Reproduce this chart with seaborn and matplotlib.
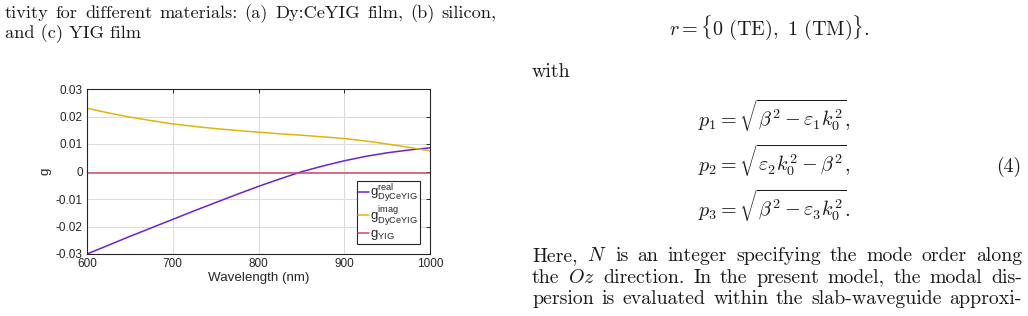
import numpy as np
import pandas as pd
import seaborn as sns
import matplotlib
matplotlib.use("Agg")
import matplotlib.pyplot as plt
from matplotlib.lines import Line2D

# ---------------- data ----------------
wavelength = [600, 625, 650, 675, 700, 725, 750, 775, 800, 825, 850, 875, 900, 925, 950, 975, 1000]
g_real = [-0.0300, -0.0268, -0.0236, -0.0205, -0.0174, -0.0143, -0.0113, -0.0083, -0.0054,
          -0.0027, -0.0001, 0.0020, 0.0039, 0.0055, 0.0068, 0.0078, 0.0086]
g_imag = [0.0230, 0.0213, 0.0198, 0.0185, 0.0173, 0.0164, 0.0156, 0.0149, 0.0143,
          0.0137, 0.0132, 0.0126, 0.0120, 0.0111, 0.0100, 0.0088, 0.0075]
g_yig = [-0.0007] * len(wavelength)
series_names = ["real", "imag", "yig"]
legend_labels = [r"$\mathregular{g^{real}_{DyCeYIG}}$",
                 r"$\mathregular{g^{imag}_{DyCeYIG}}$",
                 r"$\mathregular{g_{YIG}}$"]
xticks = [600, 700, 800, 900, 1000]
yticks = [-0.03, -0.02, -0.01, 0, 0.01, 0.02, 0.03]
ytick_labels = ["-0.03", "-0.02", "-0.01", "0", "0.01", "0.02", "0.03"]

n = len(wavelength)
df = pd.DataFrame({
    "wl": wavelength * 3,
    "g": g_real + g_imag + g_yig,
    "series": ["real"] * n + ["imag"] * n + ["yig"] * n,
})
palette = {"real": "#6A22D8", "imag": "#E0B50A", "yig": "#CF4867"}

# ---------------- figure ----------------
sns.set_style("white")
plt.rcParams["mathtext.fontset"] = "cm"
plt.rcParams["axes.unicode_minus"] = False
W, H = 1028, 316
fig = plt.figure(figsize=(W / 100, H / 100), dpi=100)

SANS = "Liberation Sans"
ax = fig.add_axes([87 / W, 1 - 254 / H, (430 - 87) / W, (254 - 89) / H])
sns.lineplot(data=df, x="wl", y="g", hue="series", palette=palette, ax=ax,
             linewidth=1.1, legend=False, sort=True)
ax.set_xlim(600, 1000)
ax.set_ylim(-0.03, 0.03)
ax.set_xticks(xticks)
ax.set_xticklabels([str(t) for t in xticks], fontfamily=SANS, fontsize=8.5)
ax.set_yticks(yticks)
ax.set_yticklabels(ytick_labels, fontfamily=SANS, fontsize=8.5)
ax.grid(True, color="#dcdcdc", linewidth=0.8)
ax.set_axisbelow(True)
for s in ax.spines.values():
    s.set_visible(True)
    s.set_color("#262626")
    s.set_linewidth(0.8)
ax.tick_params(direction="in", length=3, width=0.7, top=True, right=True,
               colors="#262626", pad=3)
ax.set_xlabel("Wavelength (nm)", fontfamily=SANS, fontsize=9.6, color="#262626", labelpad=1)
ax.set_ylabel("g", fontfamily=SANS, fontsize=9.6, color="#262626", labelpad=3)

handles = [Line2D([], [], color=palette[s], linewidth=1.1) for s in series_names]
leg = ax.legend(handles, legend_labels, loc="upper left",
                bbox_to_anchor=((357 - 87) / 343, (254 - 181) / 165),
                prop={"family": SANS, "size": 9.5}, handlelength=0.8, handletextpad=0.1,
                borderpad=0.1, labelspacing=0.0, borderaxespad=0, fancybox=False,
                framealpha=1, edgecolor="#262626")
leg.get_frame().set_linewidth(0.8)

# ---------------- surrounding page text ----------------
SERIF = "cmr10"
FS_CAP = 13.2
FS = 14.3
MFS = 14.5
renderer = fig.canvas.get_renderer()


def put(s, x, y, ha="left", size=FS):
    return fig.text(x / W, 1 - y / H, s, ha=ha, va="baseline",
                    fontfamily=SERIF, fontsize=size, color="#1a1a1a")


def justify(words, x0, x1, y, size=FS):
    ts = [put(w, 0, y, size=size) for w in words]
    ws = [t.get_window_extent(renderer).width for t in ts]
    gap = (x1 - x0 - sum(ws)) / (len(ws) - 1)
    x = x0
    for t, w in zip(ts, ws):
        t.set_position((x / W, 1 - y / H))
        x += w + gap


justify("tivity for different materials: (a) Dy:CeYIG film, (b) silicon,".split(), 5, 497, 18, size=FS_CAP)
put("and (c) YIG film", 5, 38, size=FS_CAP)

put(r"$r = \{0\ (\mathrm{TE}),\ 1\ (\mathrm{TM})\}.$", 769, 35, ha="center", size=MFS)
put("with", 532, 77)
put(r"$p_1 = \sqrt{\beta^2 - \varepsilon_1 k_0^2},$", 698, 127, size=MFS)
put(r"$p_2 = \sqrt{\varepsilon_2 k_0^2 - \beta^2},$", 698, 172, size=MFS)
put(r"$p_3 = \sqrt{\beta^2 - \varepsilon_3 k_0^2}.$", 698, 217, size=MFS)
put("(4)", 1021, 172, ha="right")

justify(r"Here, $N$ is an integer specifying the mode order along".split(), 532, 1022, 261)
justify(r"the $Oz$ direction. In the present model, the modal dis-".split(), 532, 1022, 283)
justify(r"persion is evaluated within the slab-waveguide approxi-".split(), 532, 1022, 304)

fig.savefig("out.png", dpi=100)
